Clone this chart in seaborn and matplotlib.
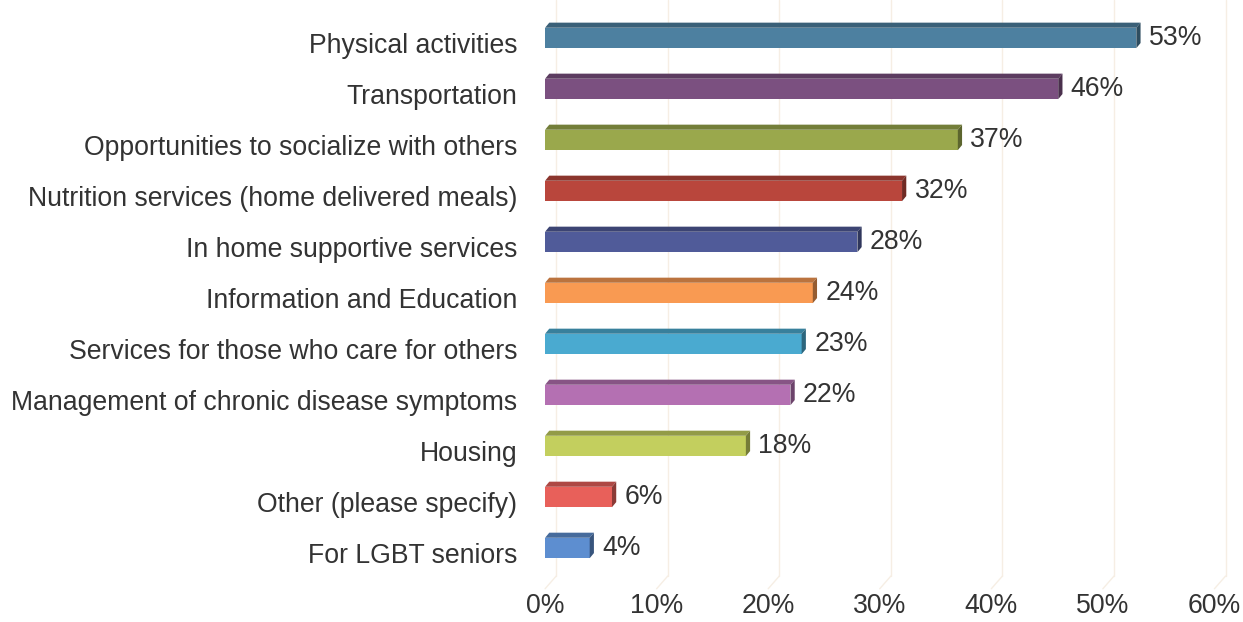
import matplotlib
matplotlib.use("Agg")
import matplotlib.pyplot as plt
from matplotlib.patches import Polygon
from matplotlib.colors import to_rgb
from matplotlib.transforms import ScaledTranslation
import seaborn as sns
import pandas as pd

categories = [
    "Physical activities",
    "Transportation",
    "Opportunities to socialize with others",
    "Nutrition services (home delivered meals)",
    "In home supportive services",
    "Information and Education",
    "Services for those who care for others",
    "Management of chronic disease symptoms",
    "Housing",
    "Other (please specify)",
    "For LGBT seniors",
]
values = [53, 46, 37, 32, 28, 24, 23, 22, 18, 6, 4]
colors = [
    "#4d80a0", "#7b5080", "#9aa84c", "#b9463c", "#505b99", "#f99a52",
    "#4aaad0", "#b470b2", "#c3cf5e", "#e8605a", "#5d8ed0",
]
xticks = [0, 10, 20, 30, 40, 50, 60]

df = pd.DataFrame({"category": categories, "value": values})

sns.set_theme(style="white")
plt.rcParams["font.family"] = ["Liberation Sans", "DejaVu Sans"]
text_color = "#333333"
fs = 19.2

fig = plt.figure(figsize=(12.43, 6.22), dpi=100)
ax = fig.add_axes([0.4385, 0.078, 0.5385, 0.902])

bar_w = 0.40
sns.barplot(data=df, x="value", y="category", hue="category", palette=colors,
            legend=False, width=bar_w, ax=ax, saturation=1, linewidth=0,
            orient="h", zorder=3)

# depth of the pseudo-3D faces, in data units
dx = 0.38
dy = 0.10


def shade(c, f):
    r, g, b = to_rgb(c)
    return (r * f, g * f, b * f)


for patch, col, v in zip(ax.patches, colors, values):
    x0 = patch.get_x()
    w = patch.get_width()
    y0 = patch.get_y()
    h = patch.get_height()
    top_y = y0  # axis is inverted: y0 is the visual top edge
    top = Polygon([(x0, top_y), (x0 + w, top_y), (x0 + w + dx, top_y - dy),
                   (x0 + dx, top_y - dy)], closed=True,
                  facecolor=shade(col, 0.75), edgecolor="none", zorder=3)
    side = Polygon([(x0 + w, top_y), (x0 + w + dx, top_y - dy),
                    (x0 + w + dx, top_y + h - dy), (x0 + w, top_y + h)],
                   closed=True, facecolor=shade(col, 0.6), edgecolor="none",
                   zorder=3)
    ax.add_patch(top)
    ax.add_patch(side)
    ax.text(x0 + w + dx + 0.75, y0 + h / 2, f"{v}%", va="center", ha="left",
            fontsize=fs, color=text_color, zorder=4)

# faint back-wall gridlines and floor diagonals
grid_col = "#f6eee4"
n = len(categories)
for t in xticks:
    ax.plot([t + 1.0, t + 1.0], [-0.75, n - 0.45], color=grid_col, lw=1.0,
            zorder=1, clip_on=False)
    ax.plot([t, t + 1.0], [n - 0.2, n - 0.45], color=grid_col, lw=1.0,
            zorder=1, clip_on=False)

ax.set_xlim(0, 60)
ax.set_ylim(n - 0.5, -0.5)
ax.set_xticks(xticks)
ax.set_xticklabels([f"{t}%" for t in xticks])
ax.set_xlabel("")
ax.set_ylabel("")
ax.tick_params(axis="x", length=0, pad=14, labelsize=fs, labelcolor=text_color)
ax.tick_params(axis="y", length=0, pad=20, labelsize=fs, labelcolor=text_color)
# category names sit slightly below the bar fronts
shift = ScaledTranslation(0, -0.05, fig.dpi_scale_trans)
for lab in ax.get_yticklabels():
    lab.set_transform(lab.get_transform() + shift)
for s in ax.spines.values():
    s.set_visible(False)
ax.grid(False)

fig.savefig("out.png", dpi=100, facecolor="white")
